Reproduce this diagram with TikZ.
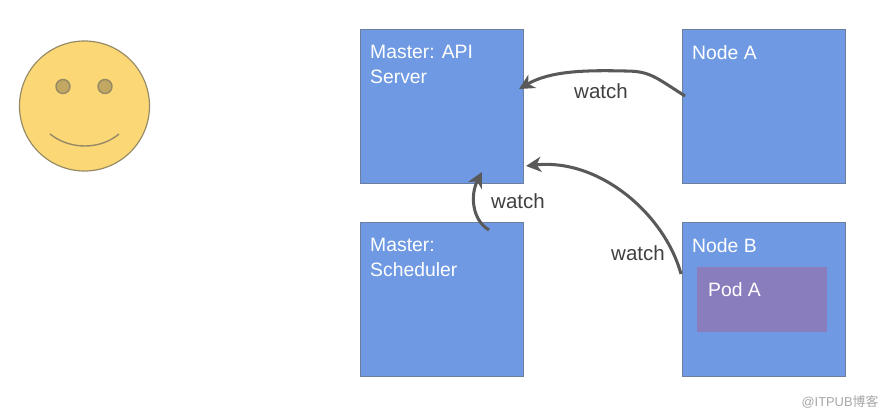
\documentclass[tikz,border=0pt]{standalone}
\usepackage{fontspec}
\setmainfont{Liberation Sans}
\newfontfamily\cjk{Noto Sans CJK SC}
\usetikzlibrary{arrows.meta}
\definecolor{boxblue}{HTML}{6F9AE3}
\definecolor{boxedge}{HTML}{6C7F9E}
\definecolor{podpurple}{HTML}{8A7DBE}
\definecolor{faceyellow}{HTML}{FBD775}
\definecolor{faceedge}{HTML}{968A66}
\definecolor{eyefill}{HTML}{C2A762}
\definecolor{arrowgray}{HTML}{595959}
\tikzstyle{arrow} = [line width=2.6pt,-{Stealth[length=13pt,width=13pt,inset=4pt]},arrowgray]
\tikzstyle{box} = [rectangle, draw=boxedge, fill=boxblue, line width=0.8pt, minimum width=4.89cm, minimum height=4.62cm, anchor=north west, inner sep=0pt]
\tikzstyle{boxtext} = [anchor=north west, align=left, text=white, inner sep=0pt, font=\fontsize{16.5}{21}\selectfont]
\tikzstyle{watchtext} = [text=black!75, inner sep=0pt, font=\fontsize{17.5}{20}\selectfont]
\tikzstyle{eye} = [circle, draw=faceedge, fill=eyefill, line width=1.2pt, minimum size=0.42cm, inner sep=0pt]
\begin{document}
\begin{tikzpicture}[x=0.03cm,y=-0.03cm]
\useasboundingbox (0,0) rectangle (890,417);

\node [circle, draw=faceedge, fill=faceyellow, line width=1pt, minimum size=3.9cm, inner sep=0pt] (face) at (84.5,106) {};
\node [eye] (eyel) at (63,86.5) {};
\node [eye] (eyer) at (105,86.5) {};
\coordinate (mouthl) at (50,134);
\coordinate (mouthr) at (119,134);
\draw [faceedge, line width=1.2pt] (mouthl) .. controls (70,150) and (100,150) .. (mouthr);

\node [box] (api) at (359.5,28.7) {};
\node [box] (nodea) at (681.5,28.7) {};
\node [box] (sched) at (359.5,221.7) {};
\node [box] (nodeb) at (681.5,221.7) {};
\node [rectangle, fill=podpurple, minimum width=3.9cm, minimum height=1.95cm, anchor=north west, inner sep=0pt] (poda) at (697,267) {};

\node [boxtext] (apit) at (370,45) {Master: API\\Server};
\node [boxtext] (nodeat) at (692,45) {Node A};
\node [boxtext] (schedt) at (370,238) {Master:\\Scheduler};
\node [boxtext] (nodebt) at (692,238) {Node B};
\node [boxtext] (podat) at (708,282) {Pod A};

\coordinate (a1) at (685,96);
\coordinate (a2) at (519,89);
\coordinate (b1) at (681,274);
\coordinate (b2) at (526,166);
\coordinate (c1) at (489,230);
\coordinate (c2) at (482,172);
\draw [arrow] (a1) .. controls (655,77) and (650,71) .. (625,71) .. controls (585,70) and (550,71) .. (a2);
\draw [arrow] (b1) .. controls (665,215) and (600,158) .. (b2);
\draw [arrow] (c1) .. controls (472,220) and (470,195) .. (c2);

\node [watchtext] (w1) at (601,91) {watch};
\node [watchtext] (w2) at (518,201) {watch};
\node [watchtext] (w3) at (638,253) {watch};

\node [text=black!35, inner sep=0pt, font=\fontsize{11}{13}\selectfont] (mark) at (840,402) {@ITPUB{\cjk 博客}};
\end{tikzpicture}
\end{document}
